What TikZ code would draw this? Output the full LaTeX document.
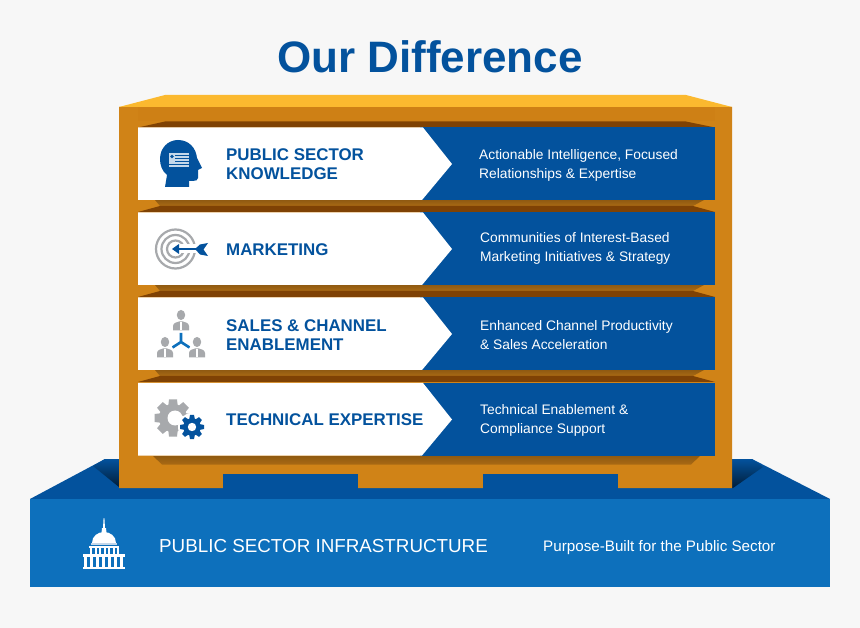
\documentclass[tikz,border=0pt]{standalone}
\usepackage{fontspec}
\setmainfont{Liberation Sans}
\definecolor{bgc}{HTML}{F7F7F7}
\definecolor{navy}{HTML}{03529D}
\definecolor{basec}{HTML}{0D70BC}
\definecolor{frame}{HTML}{D08317}
\definecolor{frametop}{HTML}{CE8015}
\definecolor{yel}{HTML}{FBB92F}
\definecolor{brownd}{HTML}{7F4204}
\definecolor{brownl}{HTML}{A96A14}
\definecolor{graye}{HTML}{A7A9AC}
\definecolor{flagc}{HTML}{C5D8EA}
\tikzset{
  x=1pt,y=-1pt,
  titletxt/.style={font=\fontsize{44}{44}\selectfont\bfseries,text=navy,inner sep=0,anchor=base},
  rowtxt/.style={font=\fontsize{16.9}{18.7}\selectfont\bfseries,text=navy,inner sep=0,anchor=west,align=left},
  desctxt/.style={font=\fontsize{13.8}{19}\selectfont,text=white,inner sep=0,anchor=west,align=left},
  basetxt/.style={text=white,inner sep=0,anchor=base west},
}
\newcommand{\shelfrow}[1]{%
  \fill[navy] (420,#1) rectangle (715,#1+72.5);
  \fill[white] (138,#1) -- (423,#1) -- (452,#1+36.5) -- (422,#1+72.5) -- (138,#1+72.5) -- cycle;
}
\newcommand{\shelfgap}[1]{%
  \shade[top color=brownl!85!black,bottom color=brownl] (155,#1) -- (704,#1) -- (693,#1+6) -- (160,#1+6) -- cycle;
  \fill[brownd] (138,#1+12) -- (160,#1+6) -- (693,#1+6) -- (715,#1+12) -- cycle;
}
\newcommand{\persona}[2]{%
  \fill[graye] (#1,#2) circle (4.2 and 5);
  \fill[graye] (#1-8,#2+15.5) -- (#1-8,#2+11) .. controls (#1-8,#2+8) and (#1-4,#2+7) .. (#1-2,#2+6.5) -- (#1+2,#2+6.5) .. controls (#1+4,#2+7) and (#1+8,#2+8) .. (#1+8,#2+11) -- (#1+8,#2+15.5) -- cycle;
  \fill[white] (#1-.6,#2+7) -- (#1+.6,#2+7) -- (#1+.6,#2+15.5) -- (#1-.6,#2+15.5) -- cycle;
}
\begin{document}
\begin{tikzpicture}
\useasboundingbox (0,0) rectangle (860,628);
\fill[bgc] (0,0) rectangle (860,628);
\node[titletxt] (title) at (430,72.5) {Our Difference};
% base
\fill[navy] (30,499) -- (105,459) -- (752,459) -- (830,499) -- cycle;
\shade[top color=navy,bottom color=navy!35!black] (105,459) -- (119,459) -- (119,487) -- (93,466) -- cycle;
\shade[top color=navy,bottom color=navy!35!black] (732,459) -- (752,459) -- (763,467) -- (733,488) -- (732,488) -- cycle;
\fill[basec] (30,499) rectangle (830,587);
% frame
\fill[frame] (119,107) -- (732,107) -- (732,488) -- (618,488) -- (618,474) -- (483,474) -- (483,488) -- (358,488) -- (358,474) -- (223,474) -- (223,488) -- (119,488) -- cycle;
\fill[navy] (223,474) rectangle (358,488);
\fill[navy] (483,474) rectangle (618,488);
\fill[yel] (119,107) -- (165,95) -- (686,95) -- (732,107) -- cycle;
\fill[frametop] (138,107) rectangle (715,121);
% shelf interior shadows
\fill[brownd] (138,127.5) -- (165,121.5) -- (686,121.5) -- (715,127.5) -- cycle;
\shelfgap{200}
\shelfgap{285}
\shelfgap{370}
\shade[top color=brownl!85!black,bottom color=brownl] (153,456) -- (700,456) -- (691,464.5) -- (162,464.5) -- cycle;
% rows
\shelfrow{127.5}
\shelfrow{212.5}
\shelfrow{297.5}
\shelfrow{383}
% row texts
\node[rowtxt] (t1) at (226,164) {PUBLIC SECTOR\\KNOWLEDGE};
\node[rowtxt] (t2) at (226,250) {MARKETING};
\node[rowtxt] (t3) at (226,335) {SALES \& CHANNEL\\ENABLEMENT};
\node[rowtxt] (t4) at (226,420) {TECHNICAL EXPERTISE};
\node[desctxt] (d1) at (479,165) {Actionable Intelligence, Focused\\Relationships \& Expertise};
\node[desctxt] (d2) at (480,248.5) {Communities of Interest-Based\\Marketing Initiatives \& Strategy};
\node[desctxt] (d3) at (480,335.5) {Enhanced Channel Productivity\\\& Sales Acceleration};
\node[desctxt] (d4) at (480,420) {Technical Enablement \&\\Compliance Support};
% head icon
\fill[navy] (165,187) -- (167,175) .. controls (162,171) and (160,165) .. (160,159)
  .. controls (160,148) and (168,140) .. (178,140)
  .. controls (189,140) and (196,148) .. (197,158) -- (202,168) -- (198,170) -- (198,178)
  .. controls (198,180) and (196,181) .. (193,181) -- (189,181) -- (189,187) -- cycle;
\fill[flagc] (169,153) rectangle (189,167);
\foreach \yy in {155.5,158.2,160.9,163.6} \fill[navy] (175,\yy) rectangle (189,\yy+0.9);
\fill[navy] (169,163.6) rectangle (175,164.5);
\fill[navy] (172,156.5) circle (1.8);
% target icon
\draw[graye,line width=2.2] (175.5,249) circle (19.5);
\draw[graye,line width=2.2] (175.5,249) circle (14);
\draw[graye,line width=2.2] (175.5,249) circle (8.5);
\fill[white] (174,244.5) rectangle (197,253.5);
\draw[navy,line width=2.4] (176,249) -- (199,249);
\fill[navy] (172,249) -- (179,244) -- (179,254) -- cycle;
\fill[navy] (195,249) -- (200,244.5) -- (208,243) -- (203.5,249.5) -- (208,256) -- (200,254.5) -- cycle;
% people icon
\persona{181}{315}
\persona{165}{342}
\persona{197}{342}
\draw[basec,line width=2.6] (181,342) -- (181,333) (181,342) -- (172.5,347.5) (181,342) -- (189.5,347.5);
% gear icon
\foreach \a in {0,45,...,315}
  \fill[graye,rotate around={\a:(173,418)}] (169,399.5) -- (177,399.5) -- (178,408) -- (168,408) -- cycle;
\fill[graye] (173,418) circle (14);
\fill[white] (175,418) circle (7.5);
\fill[white] (175,414) -- (192,418) -- (192,432) -- (178,424) -- cycle;
\fill[white] (192,427) circle (14);
\foreach \a in {0,45,...,315}
  \fill[navy,rotate around={\a:(192,427)}] (190,415) -- (194,415) -- (195,420) -- (189,420) -- cycle;
\fill[navy] (192,427) circle (8.7);
\fill[white] (192,427) circle (4.2);
% capitol icon
\fill[white] (103.6,518) -- (104.4,518) -- (105,528) -- (106,528) -- (106.5,533) -- (101.5,533) -- (102,528) -- (103,528) -- cycle;
\fill[white] (92,543) .. controls (92,536) and (98,532) .. (104,532) .. controls (110,532) and (116,536) .. (116,543) -- cycle;
\fill[flagc] (91,543.4) rectangle (117,545.4);
\fill[white] (89,546) rectangle (119,547.5);
\foreach \xx in {90,94.5,...,117} \fill[white] (\xx,547) rectangle (\xx+2.2,554);
\fill[white] (83,554) rectangle (125,557);
\foreach \xx in {84,90,...,120} \fill[white] (\xx,557) rectangle (\xx+3,567);
\fill[white] (83,567) rectangle (125,569);
% base texts
\node[basetxt,font=\fontsize{18.8}{18.8}\selectfont] (b1) at (159,552.5) {PUBLIC SECTOR INFRASTRUCTURE};
\node[basetxt,font=\fontsize{15.2}{15.2}\selectfont] (b2) at (543,551) {Purpose-Built for the Public Sector};
\end{tikzpicture}
\end{document}
